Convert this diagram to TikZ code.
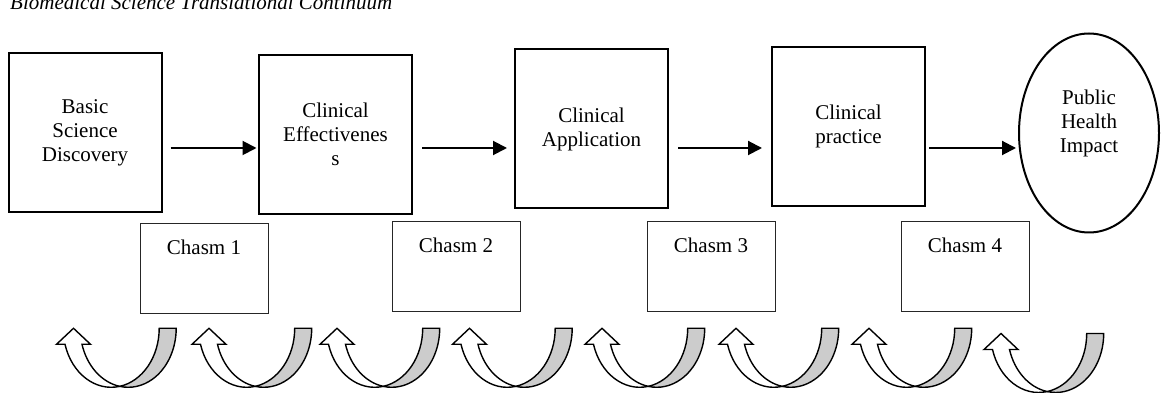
\documentclass[tikz,border=0pt]{standalone}
\usepackage{fontspec}
\setmainfont{Liberation Serif}
\usetikzlibrary{arrows.meta,shapes.geometric,calc}
\tikzset{
  txt/.style={font=\fontsize{21}{24}\selectfont},
  stage/.style={draw, line width=2pt, minimum width=153pt, minimum height=159pt,
    align=center, inner sep=0pt, txt},
  goal/.style={draw, ellipse, line width=2pt, minimum width=140pt,
    minimum height=199pt, inner sep=0pt},
  gap/.style={draw=black!85, line width=1pt, minimum width=128pt,
    minimum height=90pt, inner sep=0pt},
  flow/.style={line width=2pt, -{Triangle[length=14pt,width=14pt]}},
  % U-turn block arrow: white front band with head, grey back band
  uturn/.pic={
    \draw[line width=1.4pt, line join=miter, fill=white]
      (-8.5,-16) arc[start angle=195.74, end angle=280.2, x radius=48pt, y radius=59pt]
      arc[start angle=259.8, end angle=195.74, x radius=48pt, y radius=59pt]
      -- (17,-16) -- (0,0) -- (-17,-16) -- cycle;
    \draw[line width=1.4pt, line join=miter, fill=black!20]
      (102.7,0) arc[start angle=0, end angle=-100.2, x radius=48pt, y radius=59pt]
      arc[start angle=-79.8, end angle=0, x radius=48pt, y radius=59pt]
      -- cycle;
  }
}
\begin{document}
\begin{tikzpicture}[x=1pt, y=1pt]
\useasboundingbox (0,0) rectangle (1161,393);

% title
\node[font=\fontsize{21}{24}\selectfont\itshape, anchor=base west, inner sep=0pt]
  (title) at (10,383) {Biomedical Science Translational Continuum};

% stages of the continuum
\node[stage] (b1) at (85,260)    {Basic\\Science\\Discovery};
\node[stage] (b2) at (335.5,258.5) {Clinical\\Effectivenes\\s};
\node[stage] (b3) at (591.5,264) {Clinical\\Application};
\node[stage] (b4) at (848.5,266.5) {Clinical\\practice};
\node[goal, label={[txt, align=center, anchor=center, yshift=10pt]center:Public\\Health\\Impact}]
  (b5) at (1089,260) {};

% flow between stages
\coordinate (row) at (0,245);
\draw[flow] ($(b1.east|-row)+(8,0)$)  -- ($(b2.west|-row)+(-1.5,0)$);
\draw[flow] ($(b2.east|-row)+(9,0)$)  -- ($(b3.west|-row)+(-7,0)$);
\draw[flow] ($(b3.east|-row)+(9,0)$)  -- ($(b4.west|-row)+(-9,0)$);
\draw[flow] ($(b4.east|-row)+(3,0)$)  -- ($(b5.west|-row)+(-2,0)$);

% chasms between stages
\node[gap, label={[txt, anchor=center, yshift=-24pt]north:Chasm 1}] (c1) at (204,124.5) {};
\node[gap, label={[txt, anchor=center, yshift=-24pt]north:Chasm 2}] (c2) at (456,126) {};
\node[gap, label={[txt, anchor=center, yshift=-24pt]north:Chasm 3}] (c3) at (711,126) {};
\node[gap, label={[txt, anchor=center, yshift=-24pt]north:Chasm 4}] (c4) at (965,126) {};

% row of U-turn arrows
\foreach \tx in {73.5,209,337,469.5,602,736,869}
  \pic at (\tx,64.7) {uturn};
\pic at (1001,59.5) {uturn};
\end{tikzpicture}
\end{document}
